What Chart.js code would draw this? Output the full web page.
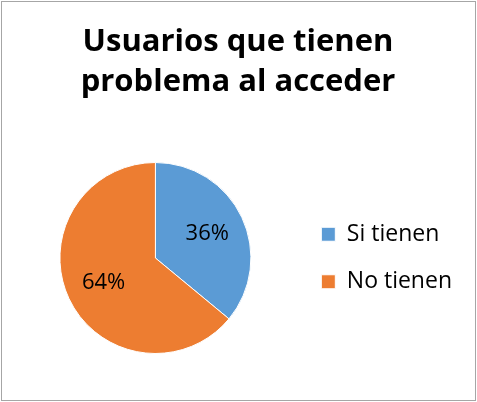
<!DOCTYPE html>
<html>
<head>
<meta charset="utf-8">
<script src="https://cdn.jsdelivr.net/npm/chart.js@4"></script>
<style>
  html, body { margin: 0; padding: 0; background: #fff; }
  #wrap { width: 477px; height: 402px; }
</style>
</head>
<body>
<div id="wrap"><canvas id="pie" width="477" height="402"></canvas></div>
<script>
const titleLines = ['Usuarios que tienen', 'problema al acceder'];
const categories = ['Si tienen', 'No tienen'];
const percentages = [36, 64];
const sliceColors = ['#5B9BD5', '#ED7D31'];

const FONT = '"Open Sans", "Liberation Sans", sans-serif';

// white background and the thin frame round the chart
const framePlugin = {
    id: 'frame',
    beforeDraw(chart) {
        const c = chart.ctx;
        c.save();
        c.fillStyle = '#fff';
        c.fillRect(0, 0, chart.width, chart.height);
        c.strokeStyle = '#A6A6A6';
        c.lineWidth = 1;
        c.strokeRect(1.5, 1.5, chart.width - 3, chart.height - 3);
        c.restore();
    }
};

// percent labels inside the slices
const sliceLabels = {
    id: 'sliceLabels',
    afterDatasetsDraw(chart) {
        const c = chart.ctx;
        const meta = chart.getDatasetMeta(0);
        c.save();
        c.font = '22px ' + FONT;
        c.fillStyle = '#000';
        c.textAlign = 'center';
        c.textBaseline = 'middle';
        meta.data.forEach((arc, i) => {
            const mid = (arc.startAngle + arc.endAngle) / 2;
            const r = arc.outerRadius * 0.6;
            c.fillText(percentages[i] + '%', arc.x + Math.cos(mid) * r, arc.y + Math.sin(mid) * r);
        });
        c.restore();
    }
};

new Chart(document.getElementById('pie'), {
    type: 'pie',
    data: {
        labels: categories,
        datasets: [{
            data: percentages,
            backgroundColor: sliceColors,
            borderColor: '#fff',
            borderWidth: 1
        }]
    },
    options: {
        responsive: false,
        animation: false,
        layout: { padding: { top: 0, bottom: 48, left: 14, right: 15 } },
        plugins: {
            title: {
                display: true,
                text: titleLines,
                color: '#000',
                font: { family: FONT, size: 31, weight: 'bold', lineHeight: 40 / 31 },
                padding: { top: 22, bottom: 60 }
            },
            legend: {
                position: 'right',
                fullSize: false,
                labels: {
                    color: '#000',
                    font: { family: FONT, size: 23 },
                    boxWidth: 14,
                    boxHeight: 14,
                    padding: 24.5
                }
            },
            tooltip: { enabled: false }
        }
    },
    plugins: [framePlugin, sliceLabels]
});
</script>
</body>
</html>
